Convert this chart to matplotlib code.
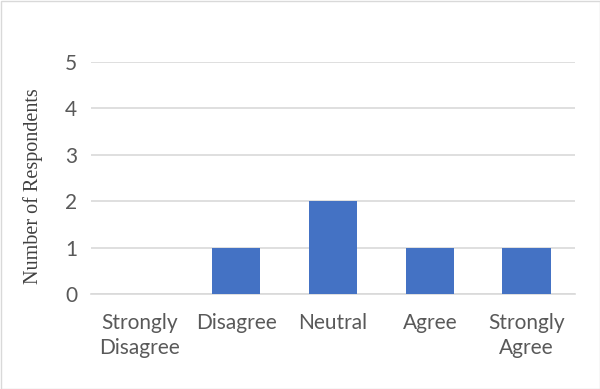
import matplotlib
matplotlib.use("Agg")
import matplotlib.pyplot as plt

categories = ["Strongly\nDisagree", "Disagree", "Neutral", "Agree", "Strongly\nAgree"]
respondents = [0, 1, 2, 1, 1]
yticks = [0, 1, 2, 3, 4, 5]

fig = plt.figure(figsize=(6, 3.89), dpi=100)
fig.patch.set_facecolor("white")
ax = fig.add_axes([91/600, 1-294/389, 484/600, 232/389])

x = range(len(categories))
ax.bar(x, respondents, width=0.5, color="#4472C4", zorder=3)
ax.set_xlim(-0.5, len(categories)-0.5)
ax.set_ylim(0, 5)
ax.set_yticks(yticks)
ax.set_xticks(list(x))
ax.set_xticklabels(categories, fontfamily="Lato", fontsize=15, color="#595959", linespacing=1.3)
for lab in ax.get_yticklabels():
    lab.set_fontfamily("Lato")
    lab.set_fontsize(15)
    lab.set_color("#595959")
ax.tick_params(axis="both", length=0)
ax.tick_params(axis="x", pad=14)
ax.tick_params(axis="y", pad=10)
ax.grid(axis="y", color="#D9D9D9", linewidth=1.2, zorder=0)
for s in ["top", "right", "left"]:
    ax.spines[s].set_visible(False)
ax.spines["bottom"].set_color("#D9D9D9")
ax.spines["bottom"].set_linewidth(1.2)
ax.set_ylabel("Number of Respondents", fontfamily="Liberation Serif", fontsize=14.5, color="#404040")
ax.yaxis.set_label_coords(-0.10, 0.465)

border = plt.Rectangle((0.5/600, 0.5/389), 1-1/600, 1-1/389, transform=fig.transFigure,
                       fill=False, edgecolor="#D9D9D9", linewidth=1)
fig.add_artist(border)

fig.savefig("out.png", dpi=100)
